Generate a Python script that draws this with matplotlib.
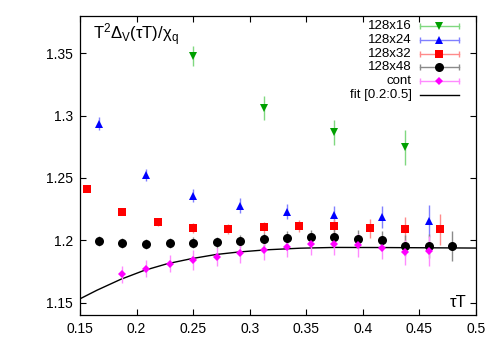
import numpy as np
import matplotlib
matplotlib.use("Agg")
import matplotlib.pyplot as plt

plt.rcParams["font.family"] = ["Liberation Sans", "DejaVu Sans"]
plt.rcParams["mathtext.fontset"] = "custom"
plt.rcParams["mathtext.rm"] = "Liberation Sans"
plt.rcParams["mathtext.it"] = "Liberation Sans"

# 128x16
x16 = [4/16, 5/16, 6/16, 7/16]
y16 = [1.3478, 1.3060, 1.2864, 1.2744]
e16 = [0.0083, 0.0095, 0.0101, 0.0139]

# 128x24
x24 = [4/24, 5/24, 6/24, 7/24, 8/24, 9/24, 10/24, 11/24]
y24 = [1.2933, 1.2526, 1.2358, 1.2278, 1.2230, 1.2206, 1.2187, 1.2152]
e24 = [0.0052, 0.0048, 0.0052, 0.0060, 0.0059, 0.0072, 0.0087, 0.0128]

# 128x32
x32 = [5/32, 6/32, 7/32, 8/32, 9/32, 10/32, 11/32, 12/32, 13/32, 14/32, 15/32]
y32 = [1.2412, 1.2226, 1.2144, 1.2099, 1.2091, 1.2104, 1.2115, 1.2112, 1.2096, 1.2088, 1.2088]
e32 = [0.0020, 0.0025, 0.0030, 0.0040, 0.0040, 0.0045, 0.0050, 0.0055, 0.0076, 0.0096, 0.0124]

# 128x48
x48 = [n/48 for n in range(8, 24)]
y48 = [1.1995, 1.1976, 1.1971, 1.1974, 1.1979, 1.1984, 1.1992, 1.2006,
       1.2016, 1.2024, 1.2022, 1.2011, 1.1998, 1.1955, 1.1955, 1.1955]
e48 = [0.0040, 0.0040, 0.0040, 0.0040, 0.0045, 0.0045, 0.0050, 0.0050,
       0.0055, 0.0060, 0.0065, 0.0070, 0.0075, 0.0085, 0.0095, 0.0119]

# continuum
xc = [n/48 for n in range(9, 23)]
yc = [1.1725, 1.1771, 1.1811, 1.1840, 1.1867, 1.1899, 1.1920,
      1.1947, 1.1966, 1.1966, 1.1958, 1.1939, 1.1904, 1.1910]
ec = [0.0067, 0.0067, 0.0070, 0.0080, 0.0070, 0.0080, 0.0080,
      0.0083, 0.0084, 0.0083, 0.0090, 0.0093, 0.0100, 0.0120]

# fit [0.2:0.5]
xf = [0.15, 0.165, 0.1857, 0.2065, 0.227, 0.248, 0.27, 0.29, 0.315,
      0.345, 0.375, 0.42, 0.46, 0.5]
yf = [1.1530, 1.1599, 1.1685, 1.1757, 1.1811, 1.1851, 1.1885, 1.1905,
      1.1923, 1.1936, 1.1942, 1.1941, 1.1939, 1.1937]

series = [
    ("128x16", x16, y16, e16, "#00a000", "#80d880", "v", 5.5),
    ("128x24", x24, y24, e24, "#0000ff", "#8080ff", "^", 5.5),
    ("128x32", x32, y32, e32, "#ff0000", "#ff8a8a", "s", 6.0),
    ("128x48", x48, y48, e48, "#000000", "#8a8a8a", "o", 6.5),
    ("cont", xc, yc, ec, "#ff00ff", "#ff8aff", "D", 4.5),
]

fig = plt.figure(figsize=(4.91, 3.43), dpi=100)
ax = fig.add_axes([0.163, 0.0816, 0.806, 0.8724])

ax.plot(xf, yf, color="black", lw=1.0, zorder=2)

for lab, x, y, e, c, ec_, m, ms in series:
    ax.errorbar(x, y, yerr=e, fmt=m, color=c, ecolor=ec_, elinewidth=1.0,
                capsize=2.2, capthick=1.0, ms=ms, mew=0, zorder=3)

ax.set_xlim(0.15, 0.5)
ax.set_ylim(1.140, 1.380)
ax.set_xticks(np.arange(0.15, 0.501, 0.05))
ax.set_xticklabels(["0.15", "0.2", "0.25", "0.3", "0.35", "0.4", "0.45", "0.5"])
ax.set_yticks([1.15, 1.2, 1.25, 1.3, 1.35])
ax.set_yticklabels(["1.15", "1.2", "1.25", "1.3", "1.35"])
ax.tick_params(direction="in", length=4, width=0.8, top=True, right=True,
               labelsize=10, pad=5)
for s in ax.spines.values():
    s.set_linewidth(0.9)

ax.text(0.034, 0.919, r"T$^2$Δ$_\mathregular{V}$(τT)/χ$_\mathregular{q}$",
        transform=ax.transAxes, fontsize=12, va="baseline", ha="left")
ax.text(0.9765, 0.028, "τT", transform=ax.transAxes, fontsize=12,
        va="baseline", ha="right")

# gnuplot-style key
xt, x0, x1 = 0.8376, 0.8586, 0.958
y0, dy = 0.9666, 0.0464
for i, (lab, x, y, e, c, ec_, m, ms) in enumerate(series):
    yy = y0 - i * dy
    ax.text(xt, yy, lab, transform=ax.transAxes, fontsize=9.5,
            ha="right", va="center")
    ax.plot([x0, x1], [yy, yy], color=ec_, lw=1.0, transform=ax.transAxes)
    ax.plot([x0, x1], [yy, yy], ls="none", marker="|", ms=4, mew=1.0,
            color=ec_, transform=ax.transAxes)
    ax.plot([(x0 + x1) / 2], [yy], marker=m, ms=ms, mew=0, color=c,
            transform=ax.transAxes)
yy = y0 - 5 * dy
ax.text(xt, yy, "fit [0.2:0.5]", transform=ax.transAxes, fontsize=9.5,
        ha="right", va="center")
ax.plot([x0, x1], [yy, yy], color="black", lw=1.0, transform=ax.transAxes)

fig.savefig("out.png", dpi=100)
